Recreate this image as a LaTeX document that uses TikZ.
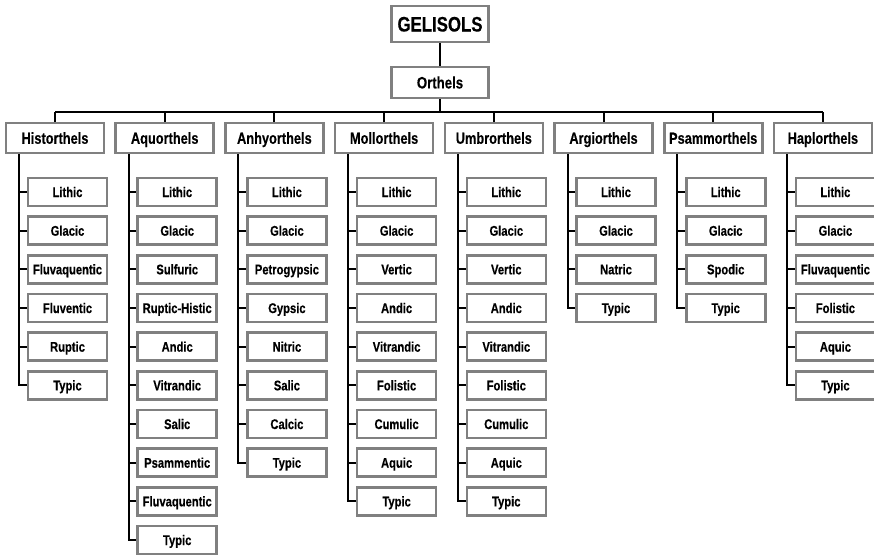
\documentclass[tikz,border=0pt]{standalone}
\usepackage{fontspec}
\setmainfont{Liberation Sans}[FakeStretch=0.8,BoldFeatures={FakeBold=0.3}]
\definecolor{boxgray}{rgb}{0.5,0.5,0.5}
\begin{document}
\begin{tikzpicture}[x=1pt,y=-1pt,
  box/.style={draw=boxgray, line width=2.6pt, fill=white, inner sep=0pt, align=center, text depth=0pt},
  topbox/.style={box, minimum width=97.5pt, minimum height=36pt, text height=15pt, font=\fontsize{21}{24}\selectfont\bfseries},
  ordbox/.style={box, minimum width=97.5pt, minimum height=31pt, text height=11.8pt, font=\fontsize{16.5}{19}\selectfont\bfseries},
  parbox/.style={box, minimum width=98pt, minimum height=30pt, text height=11.5pt, font=\fontsize{16}{19}\selectfont\bfseries},
  kidbox/.style={box, minimum width=79pt, minimum height=28pt, text height=10pt, font=\fontsize{14}{16}\selectfont\bfseries},
  conn/.style={draw=black, line width=2pt}]
\useasboundingbox (0,0) rectangle (874,555);
\node[topbox] (G) at (440,24) {GELISOLS};
\node[ordbox] (O) at (440,82.5) {Orthels};
\coordinate (bus) at (440,112);
\draw[conn] (G.south) -- (O.north);
\draw[conn] (O.south) -- (bus);
\foreach \name/\kids [count=\i from 0] in {
  Historthels/{Lithic,Glacic,Fluvaquentic,Fluventic,Ruptic,Typic},
  Aquorthels/{Lithic,Glacic,Sulfuric,Ruptic-Histic,Andic,Vitrandic,Salic,Psammentic,Fluvaquentic,Typic},
  Anhyorthels/{Lithic,Glacic,Petrogypsic,Gypsic,Nitric,Salic,Calcic,Typic},
  Mollorthels/{Lithic,Glacic,Vertic,Andic,Vitrandic,Folistic,Cumulic,Aquic,Typic},
  Umbrorthels/{Lithic,Glacic,Vertic,Andic,Vitrandic,Folistic,Cumulic,Aquic,Typic},
  Argiorthels/{Lithic,Glacic,Natric,Typic},
  Psammorthels/{Lithic,Glacic,Spodic,Typic},
  Haplorthels/{Lithic,Glacic,Fluvaquentic,Folistic,Aquic,Typic}} {
  \pgfmathsetmacro{\L}{5+109.7*\i}
  \node[parbox] (p\i) at (\L+50,138) {\name};
  \draw[conn] (p\i.north) -- (p\i.north |- bus);
  \coordinate (t\i) at (\L+14,154);
  \foreach \k [count=\j from 0] in \kids {
    \node[kidbox] (c\i-\j) at (\L+62.5,192+38.67*\j) {\k};
    \draw[conn] (t\i) |- (c\i-\j.west);
  }
}
\draw[conn] (p0.north |- bus) -- (p7.north |- bus);
\end{tikzpicture}
\end{document}
